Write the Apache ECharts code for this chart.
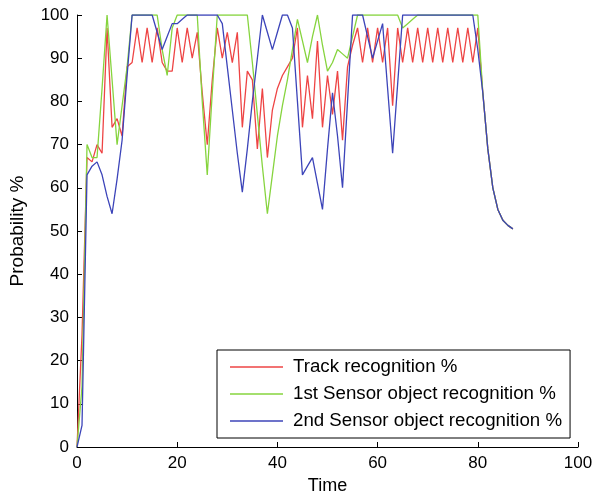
<!DOCTYPE html>
<html>
<head>
<meta charset="utf-8">
<script src="https://cdn.jsdelivr.net/npm/echarts@6/dist/echarts.min.js"></script>
<style>
  html, body { margin: 0; padding: 0; background: #fff; }
  #chart { width: 596px; height: 500px; }
</style>
</head>
<body>
<div id="chart"></div>
<script>
  // time steps
  const time = [0, 1, 2, 3, 4, 5, 6, 7, 8, 9, 10, 11, 12, 13, 14, 15, 16, 17, 18, 19,
    20, 21, 22, 23, 24, 25, 26, 27, 28, 29, 30, 31, 32, 33, 34, 35, 36, 37, 38, 39,
    40, 41, 42, 43, 44, 45, 46, 47, 48, 49, 50, 51, 52, 53, 54, 55, 56, 57, 58, 59,
    60, 61, 62, 63, 64, 65, 66, 67, 68, 69, 70, 71, 72, 73, 74, 75, 76, 77, 78, 79,
    80, 81, 82, 83, 84, 85, 86, 87]

  // Track recognition %
  const track = [0, 26, 67, 66, 70, 68, 97, 74, 76, 72, 88, 89, 97, 89, 97, 89, 97, 89, 87, 87,
    97, 89, 97, 90, 96, 82, 70, 85, 97, 90, 96, 89, 96, 74, 87, 85, 69, 83, 67, 78,
    83, 86, 88, 90, 97, 74, 86, 76, 94, 74, 86, 77, 87, 71, 88, 93, 97, 89, 97, 89,
    97, 89, 97, 79, 97, 89, 97, 89, 97, 89, 97, 89, 97, 89, 97, 89, 97, 89, 97, 89,
    97, 82, 69, 60, 55, 52.5, 51.3, 50.5]

  // 1st Sensor object recognition %
  const sensor1 = [0, 14, 70, 67, 67, 83, 100, 85, 70, 79, 88, 100, 100, 100, 100, 100, 100, 92, 86, 97,
    100, 100, 100, 100, 100, 80, 63, 82, 100, 100, 100, 100, 100, 100, 100, 89, 77, 65, 54, 63,
    72, 79, 85, 92, 99, 94, 89, 95, 100, 93, 87, 89, 92, 91, 90, 95, 100, 100, 100, 100,
    100, 100, 100, 100, 100, 97, 98, 99, 100, 100, 100, 100, 100, 100, 100, 100, 100, 100, 100, 100,
    100, 82, 69, 60, 55, 52.5, 51.3, 50.5]

  // 2nd Sensor object recognition %
  const sensor2 = [0, 5, 63, 65, 66, 63, 58, 54, 62, 71, 86, 100, 100, 100, 100, 100, 96, 92, 95, 98,
    98, 99, 100, 100, 100, 100, 100, 100, 100, 98, 88, 78, 68, 59, 69, 80, 90, 100, 96, 92,
    96, 100, 100, 97, 80, 63, 65, 67, 61, 55, 69, 82, 72, 60, 80, 100, 100, 100, 95, 90,
    94, 98, 83, 68, 84, 100, 100, 100, 100, 100, 100, 100, 100, 100, 100, 100, 100, 100, 100, 100,
    92, 82, 69, 60, 55, 52.5, 51.3, 50.5]

  const xTicks = [0, 20, 40, 60, 80, 100]
  const yTicks = [0, 10, 20, 30, 40, 50, 60, 70, 80, 90, 100]

  const names = ['Track recognition %', '1st Sensor object recognition %', '2nd Sensor object recognition %']
  const colors = ['#ee4444', '#86d43e', '#3c44b9']

  const font = 'Liberation Sans, Arial, sans-serif'

  function pairs(arr) {
    return time.map((t, i) => [t, arr[i]])
  }

  const axisCommon = {
    type: 'value',
    axisLine: { show: true, lineStyle: { color: '#000', width: 1 } },
    axisTick: { show: true, inside: true, length: 5, lineStyle: { color: '#000' } },
    splitLine: { show: false },
    nameLocation: 'middle',
    nameTextStyle: { color: '#000', fontSize: 18, fontFamily: font },
    axisLabel: { color: '#000', fontSize: 17, fontFamily: font }
  }

  const chart = echarts.init(document.getElementById('chart'))
  chart.setOption({
    animation: false,
    backgroundColor: '#fff',
    grid: { left: 76, right: 18, top: 15, bottom: 50 },
    xAxis: Object.assign({}, axisCommon, {
      min: xTicks[0],
      max: xTicks[xTicks.length - 1],
      interval: xTicks[1] - xTicks[0],
      name: 'Time',
      nameGap: 30,
      axisLabel: Object.assign({}, axisCommon.axisLabel, { margin: 8 })
    }),
    yAxis: Object.assign({}, axisCommon, {
      min: yTicks[0],
      max: yTicks[yTicks.length - 1],
      interval: yTicks[1] - yTicks[0],
      name: 'Probability %',
      nameGap: 50,
      nameRotate: 90,
      nameTextStyle: Object.assign({}, axisCommon.nameTextStyle, { fontSize: 19 }),
      axisLabel: Object.assign({}, axisCommon.axisLabel, { margin: 8 })
    }),
    legend: {
      orient: 'vertical',
      left: 217,
      top: 350,
      backgroundColor: '#fff',
      borderColor: '#000',
      borderWidth: 1,
      borderRadius: 0,
      padding: [7, 8, 7, 13],
      icon: 'rect',
      itemWidth: 53,
      itemHeight: 1.5,
      itemGap: 7,
      textStyle: { color: '#000', fontSize: 18.7, fontFamily: font, lineHeight: 20, padding: [0, 0, 0, 5] },
      data: names
    },
    series: names.map((n, i) => ({
      name: n,
      type: 'line',
      data: pairs([track, sensor1, sensor2][i]),
      symbol: 'none',
      color: colors[i],
      lineStyle: { width: 1.3, color: colors[i] }
    }))
  })
</script>
</body>
</html>
